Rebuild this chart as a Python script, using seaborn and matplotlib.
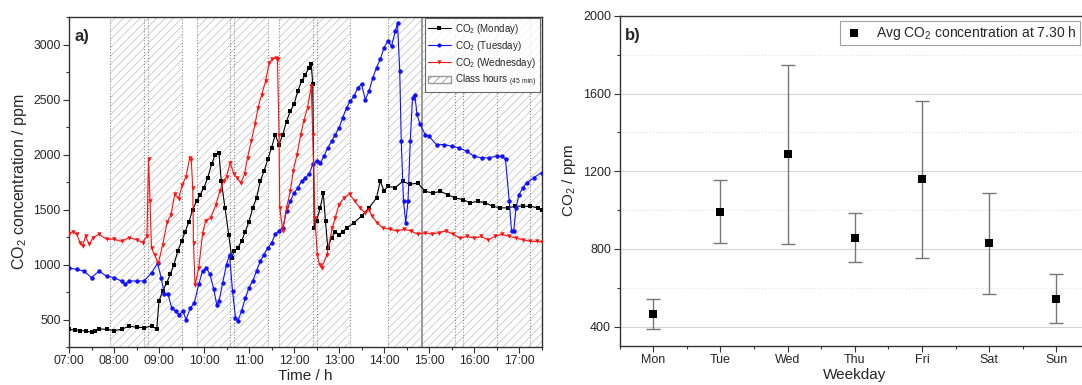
import matplotlib
matplotlib.use('Agg')
import matplotlib.pyplot as plt
from matplotlib.ticker import MultipleLocator, FuncFormatter
from matplotlib.patches import Patch
from matplotlib.lines import Line2D
import seaborn as sns

# ---- data ----
mon_t = ["07:00","07:08","07:15","07:22","07:30","07:35","07:40","07:50","08:00","08:10",
         "08:20","08:30","08:40","08:50","08:57","09:00","09:05","09:10","09:15","09:20",
         "09:25","09:30","09:35","09:40","09:45","09:50","09:55","10:00","10:05","10:10",
         "10:15","10:20","10:23","10:28","10:33","10:37","10:40","10:45","10:50","10:55",
         "11:00","11:05","11:10","11:15","11:20","11:25","11:30","11:35","11:40","11:45",
         "11:50","11:55","12:00","12:05","12:10","12:15","12:20","12:23","12:25","12:27",
         "12:30","12:35","12:39","12:42","12:45","12:50","12:55","13:00","13:05","13:10",
         "13:20","13:30","13:40","13:50","13:55","14:00","14:05","14:15","14:25","14:35",
         "14:45","14:55","15:05","15:15","15:25","15:35","15:45","15:55","16:05","16:15",
         "16:25","16:35","16:45","16:55","17:05","17:15","17:25","17:30"]
mon_v = [410,405,400,395,385,395,415,410,400,410,
         440,430,425,440,415,670,760,830,910,1000,
         1120,1210,1300,1390,1500,1575,1635,1700,1790,1910,
         2000,2010,1760,1515,1270,1060,1120,1150,1210,1300,
         1390,1515,1605,1755,1850,1955,2060,2180,2090,2180,
         2300,2395,2455,2575,2665,2725,2790,2820,2640,1335,
         1395,1515,1650,1395,1150,1240,1300,1270,1300,1330,
         1380,1440,1515,1605,1760,1670,1710,1700,1755,1730,
         1740,1665,1650,1665,1635,1605,1590,1560,1575,1560,
         1530,1515,1515,1530,1530,1530,1515,1500]

tue_t = ["07:00","07:10","07:20","07:30","07:40","07:50","08:00","08:10","08:15","08:20",
         "08:30","08:40","08:50","08:58","09:03","09:07","09:12","09:17","09:22","09:27",
         "09:32","09:36","09:42","09:47","09:53","09:58","10:03","10:08","10:13","10:17",
         "10:20","10:25","10:30","10:34","10:38","10:42","10:45","10:50","10:55","11:00",
         "11:05","11:10","11:15","11:20","11:25","11:30","11:35","11:40","11:45","11:50",
         "11:55","12:00","12:05","12:10","12:15","12:20","12:25","12:30","12:35","12:40",
         "12:45","12:50","12:55","13:00","13:05","13:10","13:15","13:20","13:25","13:30",
         "13:35","13:40","13:45","13:50","13:55","14:00","14:05","14:10","14:15","14:18",
         "14:21","14:23","14:26","14:29","14:32","14:35","14:38","14:41","14:44","14:48",
         "14:55","15:00","15:10","15:20","15:30","15:40","15:50","16:00","16:10","16:20",
         "16:30","16:37","16:42","16:47","16:50","16:53","16:56","17:00","17:05","17:10",
         "17:20","17:30"]
tue_v = [970,955,940,880,940,895,880,850,820,850,
         850,850,925,1010,880,730,730,605,575,545,
         575,500,605,650,820,940,970,910,775,635,
         665,835,1000,1090,760,515,485,575,695,790,
         850,940,1030,1090,1150,1195,1275,1305,1335,1485,
         1575,1650,1695,1755,1790,1820,1910,1940,1925,1985,
         2060,2120,2180,2240,2335,2425,2485,2530,2605,2640,
         2500,2575,2695,2790,2865,2970,3030,2985,3120,3195,
         2755,2120,1575,1380,1575,2120,2515,2545,2365,2275,
         2180,2165,2090,2090,2075,2060,2030,1985,1970,1970,
         1985,1985,1955,1575,1305,1305,1515,1635,1695,1740,
         1790,1835]

wed_t = ["07:00","07:05","07:10","07:15","07:18","07:22","07:27","07:32","07:40","07:50",
         "08:00","08:10","08:20","08:30","08:38","08:44","08:46","08:48","08:50","08:54",
         "08:59","09:05","09:11","09:16","09:21","09:26","09:31","09:36","09:41","09:43",
         "09:45","09:46","09:48","09:53","09:58","10:02","10:09","10:16","10:21","10:26",
         "10:30","10:35","10:40","10:44","10:49","10:54","10:58","11:03","11:08","11:12",
         "11:17","11:22","11:27","11:31","11:36","11:38","11:40","11:41","11:45","11:50",
         "11:55","11:59","12:04","12:09","12:13","12:18","12:23","12:25","12:28","12:31",
         "12:34","12:37","12:44","12:51","12:55","13:00","13:07","13:14","13:21","13:28",
         "13:35","13:40","13:44","13:51","13:58","14:08","14:17","14:27","14:36","14:45",
         "14:55","15:04","15:13","15:23","15:32","15:41","15:51","16:00","16:09","16:19",
         "16:28","16:37","16:47","16:56","17:05","17:15","17:24","17:30"]
wed_v = [1275,1300,1275,1200,1165,1255,1185,1245,1275,1230,
         1230,1210,1245,1225,1200,1255,1960,1580,1150,1090,
         1010,1180,1390,1450,1640,1600,1720,1800,1970,1950,
         1700,1200,810,970,1275,1395,1425,1545,1665,1755,
         1800,1925,1820,1790,1740,1820,1970,2120,2275,2425,
         2545,2665,2835,2865,2880,2865,2180,1515,1305,1515,
         1665,1850,2000,2180,2305,2425,2620,2180,1425,1090,
         1000,970,1090,1335,1425,1545,1605,1640,1575,1515,
         1470,1500,1440,1380,1335,1320,1305,1320,1305,1275,
         1290,1275,1290,1305,1275,1240,1255,1240,1255,1225,
         1255,1275,1255,1240,1225,1210,1210,1205]

# class periods (45 min); hatched in the background
class_start = ["07:55","08:45","09:50","10:40","11:40","12:30","14:05","14:50","15:45","16:30","17:15"]
class_end   = ["08:40","09:30","10:35","11:25","12:25","13:15","14:50","15:35","16:30","17:15","18:00"]
solid_mark = "14:50"

days = ["Mon","Tue","Wed","Thu","Fri","Sat","Sun"]
avg_co2 = [465, 990, 1290, 857, 1160, 830, 543]
err_low = [388, 829, 826, 731, 754, 570, 417]
err_high = [544, 1155, 1748, 984, 1564, 1087, 671]


def hrs(s):
    h, m = s.split(':')
    return int(h) + int(m) / 60


sns.set_theme(style='ticks')
plt.rcParams['font.family'] = ['Liberation Sans', 'DejaVu Sans']
plt.rcParams['mathtext.fontset'] = 'custom'
plt.rcParams['mathtext.rm'] = 'Liberation Sans'
plt.rcParams['mathtext.default'] = 'regular'
plt.rcParams['hatch.linewidth'] = 0.6

fig, (ax1, ax2) = plt.subplots(1, 2, figsize=(10.82, 3.85), dpi=100)
ax1.set_position([69/1082, 1-347/385, (541.5-69)/1082, 330/385])
ax2.set_position([619.5/1082, 1-346/385, (1090-619.5)/1082, 330/385])

# ---- a) ----
starts = [hrs(s) for s in class_start]
ends = [hrs(s) for s in class_end]
hatch_col = '#c8c8c8'
for i, (s, e) in enumerate(zip(starts, ends)):
    ax1.axvspan(s, e, facecolor='none', edgecolor=hatch_col, hatch='////', linewidth=0, zorder=0)
    # short breaks look hatched too
    if i + 1 < len(starts) and 0 < starts[i+1] - e <= 10/60:
        ax1.axvspan(e, starts[i+1], facecolor='none', edgecolor=hatch_col, hatch='////', linewidth=0, zorder=0)
for x in sorted(set(starts + ends)):
    ax1.axvline(x, color='#8a8a8a', lw=0.8, ls=':', zorder=1)
ax1.axvline(hrs(solid_mark), color='#9a9a9a', lw=1.4, zorder=1)

series = [(mon_t, mon_v, 'black', 's', 'Monday'),
          (tue_t, tue_v, '#1010ff', 'o', 'Tuesday'),
          (wed_t, wed_v, '#ff1010', 'v', 'Wednesday')]
handles = []
for t, v, c, m, name in series:
    sns.lineplot(x=[hrs(s) for s in t], y=v, ax=ax1, color=c, marker=m, markersize=3.2,
                 markeredgewidth=0, linewidth=0.8, zorder=3)
    handles.append(Line2D([], [], color=c, marker=m, markersize=3, markeredgewidth=0,
                          linewidth=0.8, label=r'CO$_2$ (%s)' % name))
handles.append(Patch(facecolor='white', edgecolor='#9a9a9a', hatch='////',
                     label=r'Class hours $_{(45\ min)}$'))

ax1.set_xlim(7, 17.5)
ax1.set_ylim(250, 3250)
ax1.xaxis.set_major_locator(MultipleLocator(1))
ax1.xaxis.set_minor_locator(MultipleLocator(0.5))
ax1.xaxis.set_major_formatter(FuncFormatter(lambda v, p: f"{int(round(v)):02d}:00"))
ax1.yaxis.set_major_locator(MultipleLocator(500))
ax1.yaxis.set_minor_locator(MultipleLocator(250))
ax1.set_xlabel('Time / h', fontsize=11, labelpad=1)
ax1.set_ylabel(r'CO$_2$ concentration / ppm', fontsize=11.5, labelpad=3)
ax1.text(0.012, 0.965, 'a)', transform=ax1.transAxes, fontsize=12, fontweight='bold', va='top')
leg1 = ax1.legend(handles=handles, loc='upper right', fontsize=7, frameon=True, fancybox=False,
                  edgecolor='#444444', borderaxespad=0.15, handlelength=2.3, labelspacing=0.3,
                  borderpad=0.35, handletextpad=0.5)
leg1.get_frame().set_linewidth(0.8)

# ---- b) ----
sns.scatterplot(x=days, y=avg_co2, ax=ax2, marker='s', color='black', s=32, linewidth=0,
                label=r'Avg CO$_2$ concentration at 7.30 h', zorder=4)
ax2.errorbar(range(len(days)), avg_co2,
             yerr=[[a - l for a, l in zip(avg_co2, err_low)], [h - a for a, h in zip(avg_co2, err_high)]],
             fmt='none', ecolor='#777777', elinewidth=1, capsize=5, capthick=1, zorder=3)
ax2.set_xlim(-0.5, 6.5)
ax2.set_ylim(300, 2000)
ax2.yaxis.set_major_locator(MultipleLocator(400))
ax2.yaxis.set_minor_locator(MultipleLocator(200))
ax2.set_xticks(range(len(days)))
ax2.set_xticklabels(days)
ax2.set_xticks([i + 0.5 for i in range(-1, len(days))], minor=True)
ax2.grid(axis='y', which='major', color='#d4d4d4', lw=0.8)
ax2.grid(axis='y', which='minor', color='#e2e2e2', lw=0.8, ls=':')
ax2.set_axisbelow(True)
ax2.set_xlabel('Weekday', fontsize=11, labelpad=1)
ax2.set_ylabel(r'CO$_2$ / ppm', fontsize=11, labelpad=4)
ax2.text(0.012, 0.965, 'b)', transform=ax2.transAxes, fontsize=12, fontweight='bold', va='top')
leg2 = ax2.legend(loc='upper right', bbox_to_anchor=(1080/1082, 1-20.5/385),
                  bbox_transform=fig.transFigure, fontsize=10, frameon=True, fancybox=False,
                  edgecolor='#8a8a8a', borderaxespad=0, borderpad=0.25, handletextpad=0.9,
                  handlelength=1.4)
leg2.get_frame().set_linewidth(0.8)

for ax, fs in ((ax1, 8.7), (ax2, 9)):
    for sp in ax.spines.values():
        sp.set_visible(True)
        sp.set_color('#333333')
        sp.set_linewidth(1)
    ax.tick_params(which='major', direction='out', length=4, width=0.8, labelsize=fs, pad=2,
                   color='#333333')
    ax.tick_params(which='minor', direction='out', length=2.2, width=0.8, color='#333333')

fig.savefig('out.png', dpi=100)
